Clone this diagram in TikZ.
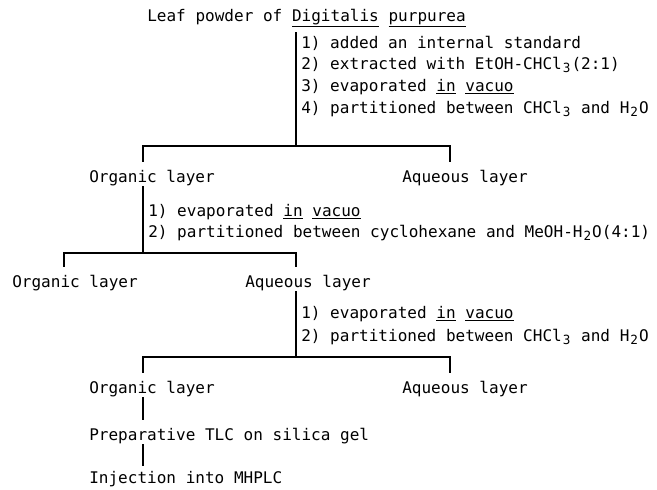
\documentclass[tikz,border=0pt]{standalone}
\usepackage{fontspec}
\usepackage{tikz}
\usetikzlibrary{positioning}
\newfontfamily\flowfont{DejaVu Sans Mono}
\newcommand{\chemsub}[1]{\raisebox{-0.45ex}{\makebox[\fontcharwd\font`0][c]{\small #1}}}

\begin{document}
\begin{tikzpicture}[x=0.025cm, y=-0.025cm,
    every node/.style={font=\flowfont\fontsize{11.4}{13}\selectfont, anchor=base west,
        inner xsep=0pt, inner ysep=0pt, text height=0.3cm, text depth=0.1cm},
    link/.style={line width=1.1pt}]
    \useasboundingbox (0,0) rectangle (657,489);

    % Nodes
    \node (leaf) at (147,21) {Leaf powder of \underline{Digitalis} \underline{purpurea}};
    \node (n1a) at (301,48) {1) added an internal standard};
    \node (n1b) at (301,69) {2) extracted with EtOH-CHCl\chemsub{3}(2:1)};
    \node (n1c) at (301,91) {3) evaporated \underline{in} \underline{vacuo}};
    \node (n1d) at (301,113) {4) partitioned between CHCl\chemsub{3} and H\chemsub{2}O};
    \node (org1) at (89,182) {Organic layer};
    \node (aq1) at (402,182) {Aqueous layer};
    \node (n2a) at (148,216) {1) evaporated \underline{in} \underline{vacuo}};
    \node (n2b) at (148,237) {2) partitioned between cyclohexane and MeOH-H\chemsub{2}O(4:1)};
    \node (org2) at (12,287) {Organic layer};
    \node (aq2) at (245,287) {Aqueous layer};
    \node (n3a) at (301,318) {1) evaporated \underline{in} \underline{vacuo}};
    \node (n3b) at (301,341) {2) partitioned between CHCl\chemsub{3} and H\chemsub{2}O};
    \node (org3) at (89,393) {Organic layer};
    \node (aq3) at (402,393) {Aqueous layer};
    \node (tlc) at (89,440) {Preparative TLC on silica gel};
    \node (hplc) at (89,483) {Injection into MHPLC};

    % Branch points
    \coordinate (j1) at (296,146);
    \coordinate (b1l) at (143,146);
    \coordinate (b1r) at (450,146);
    \coordinate (j2) at (143,253);
    \coordinate (b2l) at (64,253);
    \coordinate (b2r) at (296,253);
    \coordinate (j3) at (296,357);
    \coordinate (b3l) at (143,357);
    \coordinate (b3r) at (450,357);

    % Connectors
    \draw[link, shorten <=0.17cm] (leaf.south -| j1) -- (j1);
    \draw[link, shorten <=0.2cm, shorten >=0.2cm] (org1.north -| b1l) -- (b1l) -- (b1r) -- (aq1.north -| b1r);
    \draw[link] (org1.south -| j2) -- (j2);
    \draw[link, shorten <=0.2cm, shorten >=0.2cm] (org2.north -| b2l) -- (b2l) -- (b2r) -- (aq2.north -| b2r);
    \draw[link] (aq2.south -| j3) -- (j3);
    \draw[link, shorten <=0.2cm, shorten >=0.2cm] (org3.north -| b3l) -- (b3l) -- (b3r) -- (aq3.north -| b3r);
    \draw[link, shorten >=0.2cm] (org3.south -| b3l) -- (tlc.north -| b3l);
    \draw[link, shorten >=0.12cm] (tlc.south -| b3l) -- (hplc.north -| b3l);
\end{tikzpicture}
\end{document}
